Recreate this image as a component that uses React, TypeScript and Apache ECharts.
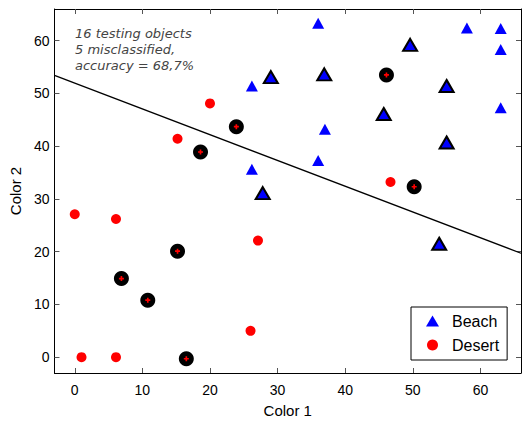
import React, { useEffect, useRef } from "react";
import * as echarts from "echarts";

const tickValues = [0, 10, 20, 30, 40, 50, 60];
const beachTrain: number[][] = [
  [36.0, 63.3], [58.0, 62.4], [63.0, 62.3], [63.0, 58.3], [63.0, 47.3],
  [26.2, 51.4], [37.0, 43.2], [36.0, 37.3], [26.2, 35.6],
];
const desertTrain: number[][] = [
  [20.0, 48.1], [15.2, 41.4], [0, 27.1], [6.1, 26.2], [27.1, 22.1],
  [46.7, 33.2], [26.0, 5.0], [1.0, 0], [6.1, 0],
];
const beachTest: number[][] = [
  [29.0, 53.1], [49.6, 59.2], [36.9, 53.6], [55.0, 51.4], [45.7, 46.1],
  [55.0, 40.7], [27.8, 31.1], [53.9, 21.5],
];
const desertTest: number[][] = [
  [46.1, 53.5], [23.9, 43.7], [18.6, 38.9], [50.2, 32.3], [15.2, 20.1],
  [6.9, 14.9], [10.8, 10.8], [16.5, -0.3],
];
const boundary: number[][] = [[-3, 53.4], [66, 19.7]];
const noteLines = ["16 testing objects", "5 misclassified,", "accuracy = 68,7%"];

const FONT = "'Liberation Sans', Arial, sans-serif";
const NOTE_FONT = "'DejaVu Sans', sans-serif";
const PLUS = "path://M2,0H4V2H6V4H4V6H2V4H0V2H2Z";

export default function App() {
  const ref = useRef<HTMLDivElement>(null);
  useEffect(() => {
    if (!ref.current) return;
    const chart = echarts.init(ref.current, null, { renderer: "svg" });
    const baseAxis = {
      min: -3,
      max: 66,
      axisLine: { show: true, onZero: false, lineStyle: { color: "#000", width: 1 } },
      splitLine: { show: false },
      axisTick: {
        show: true,
        inside: true,
        length: 5,
        customValues: tickValues,
        lineStyle: { color: "#555" },
      },
    };
    chart.setOption({
      animation: false,
      backgroundColor: "#fff",
      grid: { left: 51, right: 1, top: 9, bottom: 46 },
      xAxis: [
        {
          ...baseAxis,
          type: "value",
          position: "bottom",
          name: "Color 1",
          nameLocation: "middle",
          nameGap: 30,
          nameTextStyle: { fontFamily: FONT, fontSize: 15, color: "#000" },
          axisLabel: {
            customValues: tickValues,
            fontFamily: FONT,
            fontSize: 14,
            color: "#000",
            margin: 10,
          },
        },
        {
          ...baseAxis,
          type: "value",
          position: "top",
          axisLabel: { show: false },
        },
      ],
      yAxis: [
        {
          ...baseAxis,
          type: "value",
          position: "left",
          name: "Color 2",
          nameLocation: "middle",
          nameGap: 31,
          nameTextStyle: { fontFamily: FONT, fontSize: 15, color: "#000" },
          axisLabel: {
            customValues: tickValues,
            fontFamily: FONT,
            fontSize: 14,
            color: "#000",
            margin: 5,
          },
        },
        {
          ...baseAxis,
          type: "value",
          position: "right",
          axisLabel: { show: false },
        },
      ],
      legend: {
        left: 411,
        top: 307,
        orient: "vertical",
        data: ["Beach", "Desert"],
        borderColor: "#000",
        borderWidth: 1,
        borderRadius: 0,
        padding: [6, 8, 7, 15],
        itemWidth: 13,
        itemHeight: 11,
        itemGap: 8,
        textStyle: { fontFamily: FONT, fontSize: 16, color: "#000", padding: [0, 0, 0, 8] },
      },
      graphic: [
        {
          type: "text",
          left: 75,
          top: 25,
          style: {
            text: noteLines.join("\n"),
            font: `italic 13px ${NOTE_FONT}`,
            fill: "#444",
            lineHeight: 16,
          },
        },
      ],
      series: [
        {
          type: "line",
          data: boundary,
          showSymbol: false,
          symbol: "none",
          lineStyle: { color: "#000", width: 1.3 },
          silent: true,
          z: 1,
        },
        {
          name: "Beach",
          type: "scatter",
          data: beachTrain,
          symbol: "triangle",
          symbolSize: [12, 11],
          itemStyle: { color: "#0000ff", opacity: 1 },
          z: 3,
        },
        {
          name: "Desert",
          type: "scatter",
          data: desertTrain,
          symbol: "circle",
          symbolSize: 10,
          itemStyle: { color: "#ff0000", opacity: 1 },
          z: 3,
        },
        {
          name: "Beach test",
          type: "scatter",
          data: beachTest,
          symbol: "triangle",
          symbolSize: [14, 12],
          itemStyle: { color: "#0000ff", borderColor: "#000", borderWidth: 2, opacity: 1 },
          z: 3,
        },
        {
          name: "Desert test",
          type: "scatter",
          data: desertTest,
          symbol: "circle",
          symbolSize: 15,
          itemStyle: { color: "#000", opacity: 1 },
          z: 3,
        },
        {
          name: "Desert test center",
          type: "scatter",
          data: desertTest,
          symbol: PLUS,
          symbolSize: 5,
          itemStyle: { color: "#ff0000", opacity: 1 },
          z: 4,
        },
      ],
    });
    return () => chart.dispose();
  }, []);
  return <div ref={ref} style={{ width: 522, height: 423, position: "absolute", left: 0, top: 0 }} />;
}
